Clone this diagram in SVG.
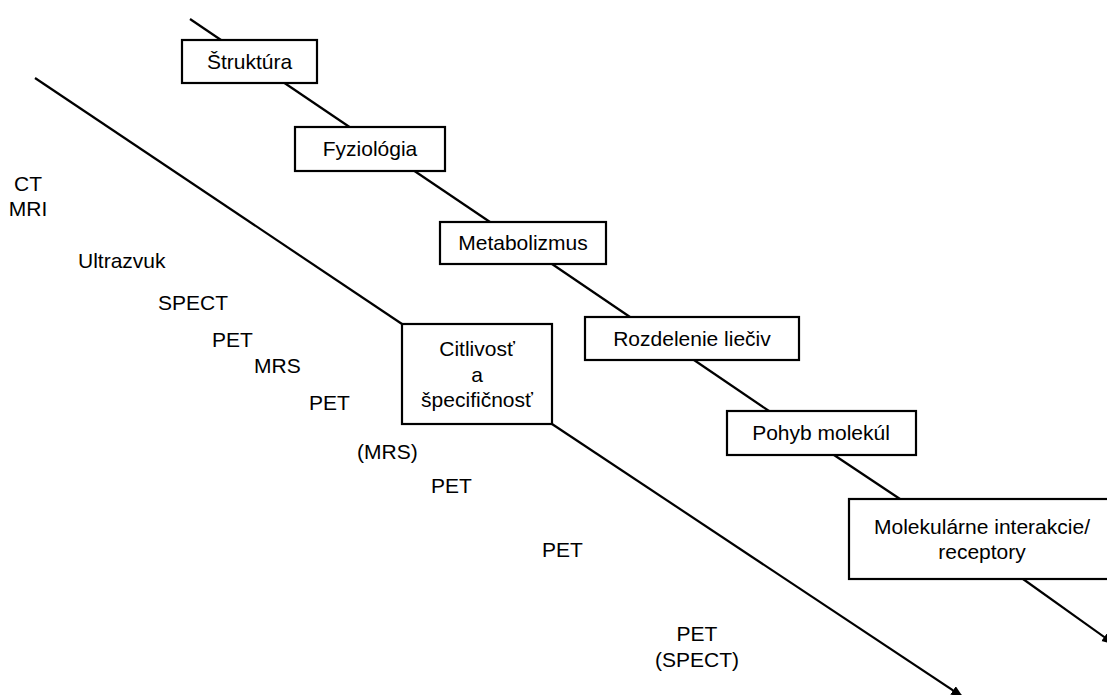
<svg xmlns="http://www.w3.org/2000/svg" width="1107" height="695" viewBox="0 0 1107 695">
<style>
  .box { fill: #ffffff; stroke: #000000; stroke-width: 2.2; }
  .ln { stroke: #000000; stroke-width: 2.2; fill: none; }
  text { font-family: "Liberation Sans", Arial, sans-serif; font-size: 21px; fill: #000000; }
  .c { text-anchor: middle; }
</style>
<defs>
  <marker id="arr" markerUnits="userSpaceOnUse" markerWidth="14" markerHeight="12" refX="12" refY="5" orient="auto">
    <path d="M0,0 L12,5 L0,10 Z" fill="#000000"/>
  </marker>
</defs>
<rect width="1107" height="695" fill="#ffffff"/>
<g id="connectors">
  <line class="ln" x1="190" y1="19" x2="221" y2="40"/>
  <line class="ln" x1="284.5" y1="83" x2="349.5" y2="127"/>
  <line class="ln" x1="414.5" y1="171" x2="490" y2="222"/>
  <line class="ln" x1="552" y1="264" x2="630" y2="317"/>
  <line class="ln" x1="694" y1="360" x2="769" y2="411"/>
  <line class="ln" x1="834" y1="455" x2="900" y2="499"/>
  <line class="ln" x1="1023" y1="579" x2="1114" y2="644" marker-end="url(#arr)"/>
  <line class="ln" x1="35" y1="78" x2="402" y2="324"/>
  <line class="ln" x1="552" y1="424" x2="963" y2="697" marker-end="url(#arr)"/>
</g>
<g id="n-struktura">
  <rect class="box" x="182" y="40" width="135" height="43"/>
  <text class="c" x="249.5" y="69">Štruktúra</text>
</g>
<g id="n-fyziologia">
  <rect class="box" x="295" y="127" width="150" height="44"/>
  <text class="c" x="370" y="156">Fyziológia</text>
</g>
<g id="n-metabolizmus">
  <rect class="box" x="440" y="222" width="166" height="42"/>
  <text class="c" x="523" y="250">Metabolizmus</text>
</g>
<g id="n-rozdelenie">
  <rect class="box" x="585" y="317" width="214" height="43"/>
  <text class="c" x="692" y="346">Rozdelenie liečiv</text>
</g>
<g id="n-pohyb">
  <rect class="box" x="727" y="411" width="189" height="44"/>
  <text class="c" x="821" y="440">Pohyb molekúl</text>
</g>
<g id="n-molekularne">
  <rect class="box" x="849" y="499" width="262" height="80"/>
  <text class="c" x="982" y="534">Molekulárne interakcie/</text>
  <text class="c" x="982" y="559">receptory</text>
</g>
<g id="n-citlivost">
  <rect class="box" x="402" y="324" width="150" height="100"/>
  <text class="c" x="477" y="356">Citlivosť</text>
  <text class="c" x="477" y="382">a</text>
  <text class="c" x="477" y="407">špecifičnosť</text>
</g>
<g id="labels">
  <text class="c" x="28" y="191">CT</text>
  <text class="c" x="28" y="216">MRI</text>
  <text x="78" y="268">Ultrazvuk</text>
  <text x="158" y="310">SPECT</text>
  <text x="212" y="347">PET</text>
  <text x="254" y="373">MRS</text>
  <text x="309" y="410">PET</text>
  <text x="357" y="459">(MRS)</text>
  <text x="431" y="493">PET</text>
  <text x="542" y="557">PET</text>
  <text class="c" x="697" y="641">PET</text>
  <text class="c" x="697" y="667">(SPECT)</text>
</g>
</svg>
